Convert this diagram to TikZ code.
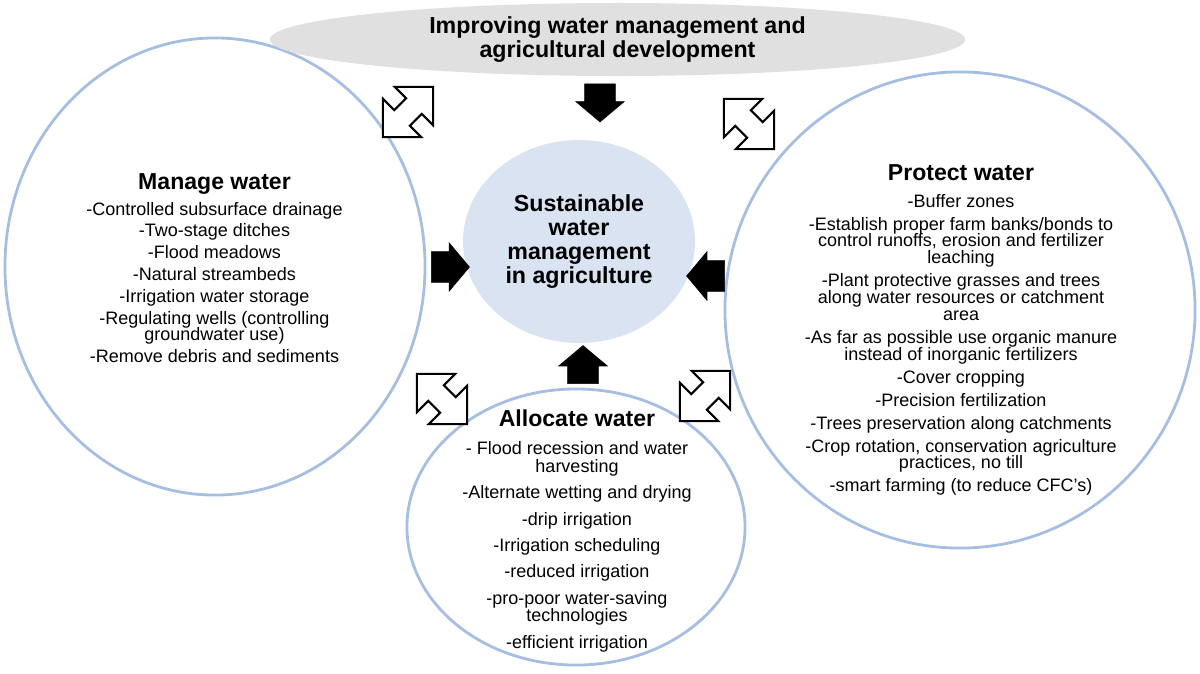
\documentclass[tikz,border=0pt]{standalone}
\usepackage{fontspec}
\setmainfont{Liberation Sans}
\usetikzlibrary{shapes.geometric,shapes.arrows}
\definecolor{ringblue}{RGB}{166,190,226}
\definecolor{hubblue}{RGB}{218,227,242}
\definecolor{bannergray}{RGB}{224,224,224}
\begin{document}
\begin{tikzpicture}[
    x=0.025cm, y=-0.025cm,
    ring/.style={ellipse, draw=ringblue, line width=2pt, inner sep=0pt},
    hub/.style={ellipse, fill=hubblue, inner sep=0pt, align=center,
        font=\bfseries\fontsize{16.5}{17}\selectfont},
    banner/.style={ellipse, fill=bannergray, inner sep=0pt, align=center,
        font=\bfseries\fontsize{16.5}{17.7}\selectfont},
    flow/.style={single arrow, fill=black, draw=black, line width=0.4pt,
        inner xsep=0pt, inner ysep=0.375cm, minimum height=0.95cm,
        single arrow head extend=0.225cm, single arrow tip angle=100},
    exchange/.style={double arrow, fill=white, draw=black, line width=1.5pt,
        inner xsep=0pt, inner ysep=0.25cm, minimum height=1.775cm,
        double arrow head extend=0.4cm},
    listM/.style={align=center, font={\fontsize{12.8}{11.3}\selectfont\lineskiplimit-20pt\relax}},
    listP/.style={align=center, font={\fontsize{12.8}{12}\selectfont\lineskiplimit-20pt\relax}},
    listA/.style={align=center, font={\fontsize{12.8}{12.7}\selectfont\lineskiplimit-20pt\relax}},
]
\useasboundingbox (0,0) rectangle (1200,673);

% the three fields of action
\node[ring, minimum width=10.5cm, minimum height=11.425cm] (manage) at (215,266.5) {};
\node[ring, minimum width=11.75cm, minimum height=11.9cm] (protect) at (960,310) {};
\node[ring, minimum width=8.45cm, minimum height=6.9cm] (allocate) at (576,527) {};

\node[banner, minimum width=17.375cm, minimum height=1.825cm] (improve) at (617.5,39.5)
  {Improving water management and\\agricultural development};
\node[hub, minimum width=5.8cm, minimum height=5.075cm] (goal) at (579,241.5)
  {Sustainable\\water\\management\\in agriculture};

\node[listM] (managetxt) at (214.5,268) {{\bfseries\fontsize{16.4}{16}\selectfont Manage water}\\[7.1pt]
  -Controlled subsurface drainage\\[4.3pt]
  -Two-stage ditches\\[4.3pt]
  -Flood meadows\\[4.3pt]
  -Natural streambeds\\[4.3pt]
  -Irrigation water storage\\[4.3pt]
  -Regulating wells (controlling\\groundwater use)\\[4.3pt]
  -Remove debris and sediments};

\node[listP] (protecttxt) at (961,330) {{\bfseries\fontsize{16.4}{16}\selectfont Protect water}\\[7.1pt]
  -Buffer zones\\[4.3pt]
  -Establish proper farm banks/bonds to\\control runoffs, erosion and fertilizer\\leaching\\[4.3pt]
  -Plant protective grasses and trees\\along water resources or catchment\\area\\[4.3pt]
  -As far as possible use organic manure\\instead of inorganic fertilizers\\[4.3pt]
  -Cover cropping\\[4.3pt]
  -Precision fertilization\\[4.3pt]
  -Trees preservation along catchments\\[4.3pt]
  -Crop rotation, conservation agriculture\\practices, no till\\[4.3pt]
  -smart farming (to reduce CFC’s)};

\node[listA] (allocatetxt) at (577,531) {{\bfseries\fontsize{16.4}{16}\selectfont Allocate water}\\[7.1pt]
  - Flood recession and water\\harvesting\\[6pt]
  -Alternate wetting and drying\\[6pt]
  -drip irrigation\\[6pt]
  -Irrigation scheduling\\[6pt]
  -reduced irrigation\\[6pt]
  -pro-poor water-saving\\technologies\\[6pt]
  -efficient irrigation};

% inputs to the goal
\node[flow, rotate=-90] (fromimprove) at (600,96.5) {};
\node[flow] (frommanage) at (444,267) {};
\node[flow, rotate=180] (fromprotect) at (712,276) {};
\node[flow, rotate=90] (fromallocate) at (583,371) {};

% two-way links
\node[exchange, rotate=45] (ximanage) at (408,112) {};
\node[exchange, rotate=-45] (xiprotect) at (749,124) {};
\node[exchange, rotate=-45] (xmallocate) at (442,399) {};
\node[exchange, rotate=45] (xpallocate) at (705,396) {};
\end{tikzpicture}
\end{document}
